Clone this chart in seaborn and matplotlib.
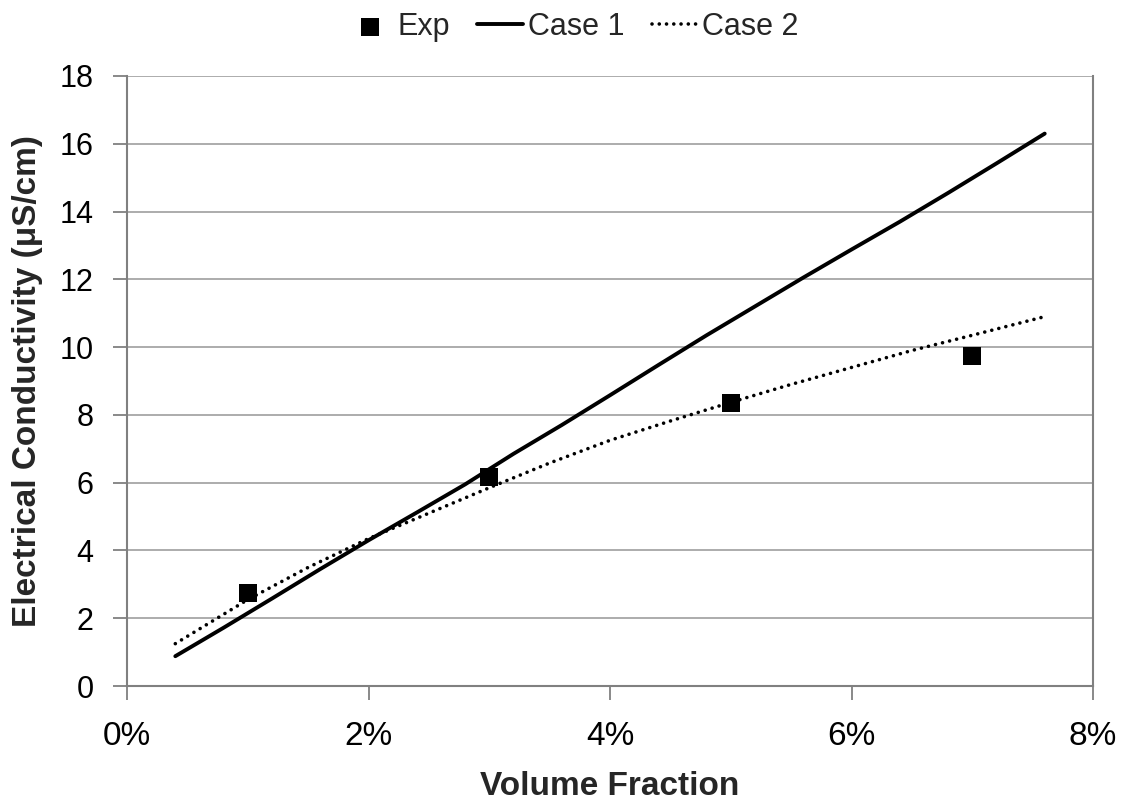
import numpy as np
import pandas as pd
import matplotlib.pyplot as plt
import seaborn as sns
from matplotlib.ticker import PercentFormatter

# experimental points
exp_x = [0.01, 0.03, 0.05, 0.07]
exp_y = [2.75, 6.17, 8.35, 9.73]

# model curves
case1_x = [0.004, 0.008, 0.012, 0.016, 0.020, 0.024, 0.028, 0.032, 0.036, 0.040,
           0.044, 0.048, 0.052, 0.056, 0.060, 0.064, 0.068, 0.072, 0.076]
case1_y = [0.88, 1.72, 2.58, 3.45, 4.30, 5.12, 5.95, 6.85, 7.70, 8.58,
           9.47, 10.35, 11.20, 12.05, 12.88, 13.70, 14.55, 15.42, 16.30]

case2_x = [0.004, 0.010, 0.015, 0.020, 0.025, 0.030, 0.035, 0.040,
           0.045, 0.050, 0.055, 0.060, 0.065, 0.070, 0.076]
case2_y = [1.25, 2.55, 3.50, 4.35, 5.10, 5.85, 6.58, 7.25,
           7.82, 8.37, 8.90, 9.40, 9.90, 10.35, 10.90]

sns.set_theme(style="white")
plt.rcParams['font.family'] = ['Liberation Sans', 'DejaVu Sans']
plt.rcParams['lines.dash_capstyle'] = 'round'

fig = plt.figure(figsize=(11.23, 8.05), dpi=100)
ax = fig.add_axes([0.1131, 0.1478, 0.8602, 0.7578])

grid_c = "#a6a6a6"
for v in range(2, 19, 2):
    ax.axhline(v, color=grid_c, lw=1.3, zorder=0)

df1 = pd.DataFrame({"x": case1_x, "y": case1_y})
df2 = pd.DataFrame({"x": case2_x, "y": case2_y})
dfe = pd.DataFrame({"x": exp_x, "y": exp_y})

sns.scatterplot(data=dfe, x="x", y="y", ax=ax, marker="s", s=170, color="black",
                edgecolor="black", linewidth=0, label="Exp", zorder=4)
sns.lineplot(data=df1, x="x", y="y", ax=ax, color="black", lw=2.8, label="Case 1",
             zorder=3, sort=False)
sns.lineplot(data=df2, x="x", y="y", ax=ax, color="black", lw=2.6, label="Case 2",
             zorder=3, sort=False, linestyle=(0, (0.01, 2.0)))

ax.set_xlim(0, 0.08)
ax.set_ylim(0, 18)
ax.set_xticks(np.arange(0, 0.081, 0.02))
ax.set_yticks(range(0, 19, 2))
ax.xaxis.set_major_formatter(PercentFormatter(xmax=1, decimals=0))

for s in ["left", "bottom", "right"]:
    ax.spines[s].set_color("#808080")
    ax.spines[s].set_linewidth(1.5)
ax.spines["top"].set_visible(False)

ax.tick_params(axis="both", which="major", bottom=True, left=True, colors="black",
               length=10, width=1.3, direction="out")
ax.tick_params(axis="both", color="#808080")
ax.tick_params(axis="x", labelsize=24, pad=15)
ax.tick_params(axis="y", labelsize=22, pad=14)

ax.set_xlabel("Volume Fraction", fontsize=24, fontweight="bold", labelpad=14)
ax.set_ylabel("Electrical Conductivity (μS/cm)", fontsize=24, fontweight="bold", labelpad=12)

ax.legend().remove()
handles, labels = ax.get_legend_handles_labels()
fig.legend(handles, labels, loc="center", bbox_to_anchor=(0.51, 0.967), ncol=3,
           frameon=False, fontsize=22, handlelength=1.5, handletextpad=0.15,
           columnspacing=0.9, markerscale=1.0)

fig.savefig("out.png", dpi=100)
